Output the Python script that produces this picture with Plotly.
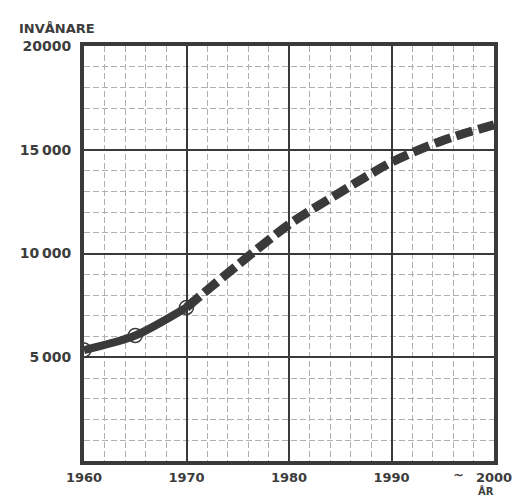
import plotly.graph_objects as go

# Observed population (solid with circles)
obs_years = [1960, 1965, 1970]
obs_values = [5350, 6050, 7400]

# Projection (dashed)
proj_years = [1970, 1975, 1980, 1985, 1990, 1995, 2000]
proj_values = [7400, 9450, 11400, 12950, 14400, 15450, 16200]

x_ticks = [1960, 1970, 1980, 1990, 2000]
x_ticktext = ["1960", "1970", "1980", "1990", "2000"]
y_ticks = [5000, 10000, 15000, 20000]
y_ticktext = ["5\u2009000", "10\u2009000", "15\u2009000", "20000"]

INK = "#3a3a3a"
TXT = "#3c3c3c"
TICKFONT = dict(family="DejaVu Sans", size=14, color=TXT, weight="bold")
XTICKFONT = dict(family="DejaVu Sans", size=13, color=TXT, weight="bold")

fig = go.Figure()
fig.add_trace(go.Scatter(
    x=proj_years, y=proj_values, mode="lines",
    line=dict(color=INK, width=9, dash="17px,6px", shape="spline", smoothing=0.8),
    hoverinfo="skip", showlegend=False))
fig.add_trace(go.Scatter(
    x=obs_years, y=obs_values, mode="lines",
    line=dict(color=INK, width=8, shape="spline", smoothing=0.8),
    hoverinfo="skip", showlegend=False))
fig.add_trace(go.Scatter(
    x=obs_years, y=obs_values, mode="markers",
    marker=dict(symbol="circle-open", size=14, color=INK, line=dict(width=1.5)),
    hoverinfo="skip", showlegend=False))

# The page places the graph 8px from the window's top-left corner.
fig.update_layout(
    width=516, height=493,
    margin=dict(l=71, r=27, t=38, b=40),
    paper_bgcolor="white", plot_bgcolor="white",
    font=dict(family="DejaVu Sans", color=TXT),
    xaxis=dict(
        range=[1960, 2000], tickvals=x_ticks, ticktext=x_ticktext,
        tickfont=XTICKFONT,
        showgrid=True, gridcolor=INK, gridwidth=2,
        showline=True, linecolor=INK, linewidth=4, mirror=True,
        ticks="", ticklabelstandoff=1, zeroline=False,
        minor=dict(dtick=2, showgrid=True, gridcolor="#b0b0b0", gridwidth=1, griddash="6px,3px"),
    ),
    yaxis=dict(
        range=[0, 20000], tickvals=y_ticks, ticktext=y_ticktext,
        tickfont=TICKFONT,
        showgrid=True, gridcolor=INK, gridwidth=2,
        showline=True, linecolor=INK, linewidth=4, mirror=True,
        ticks="", ticklabelstandoff=6, zeroline=False,
        minor=dict(dtick=1000, showgrid=True, gridcolor="#b0b0b0", gridwidth=1, griddash="6px,3px"),
    ),
    annotations=[
        dict(text="<b>INVÅNARE</b>", xref="paper", yref="paper", x=0, y=1.0,
             xanchor="left", yanchor="bottom", xshift=-67, yshift=8, showarrow=False,
             font=dict(family="DejaVu Sans", size=13, color=TXT)),
        dict(text="<b>~</b>", xref="x", yref="paper", x=2000, y=0,
             xanchor="right", yanchor="top", xshift=-28, yshift=-4, showarrow=False,
             font=dict(family="DejaVu Sans", size=13, color=TXT)),
        dict(text="<b>ÅR</b>", xref="x", yref="paper", x=2000, y=0,
             xanchor="center", yanchor="top", xshift=-8, yshift=-23, showarrow=False,
             borderpad=0, font=dict(family="DejaVu Sans", size=10, color=TXT)),
    ],
)

fig.write_html("out.html")
